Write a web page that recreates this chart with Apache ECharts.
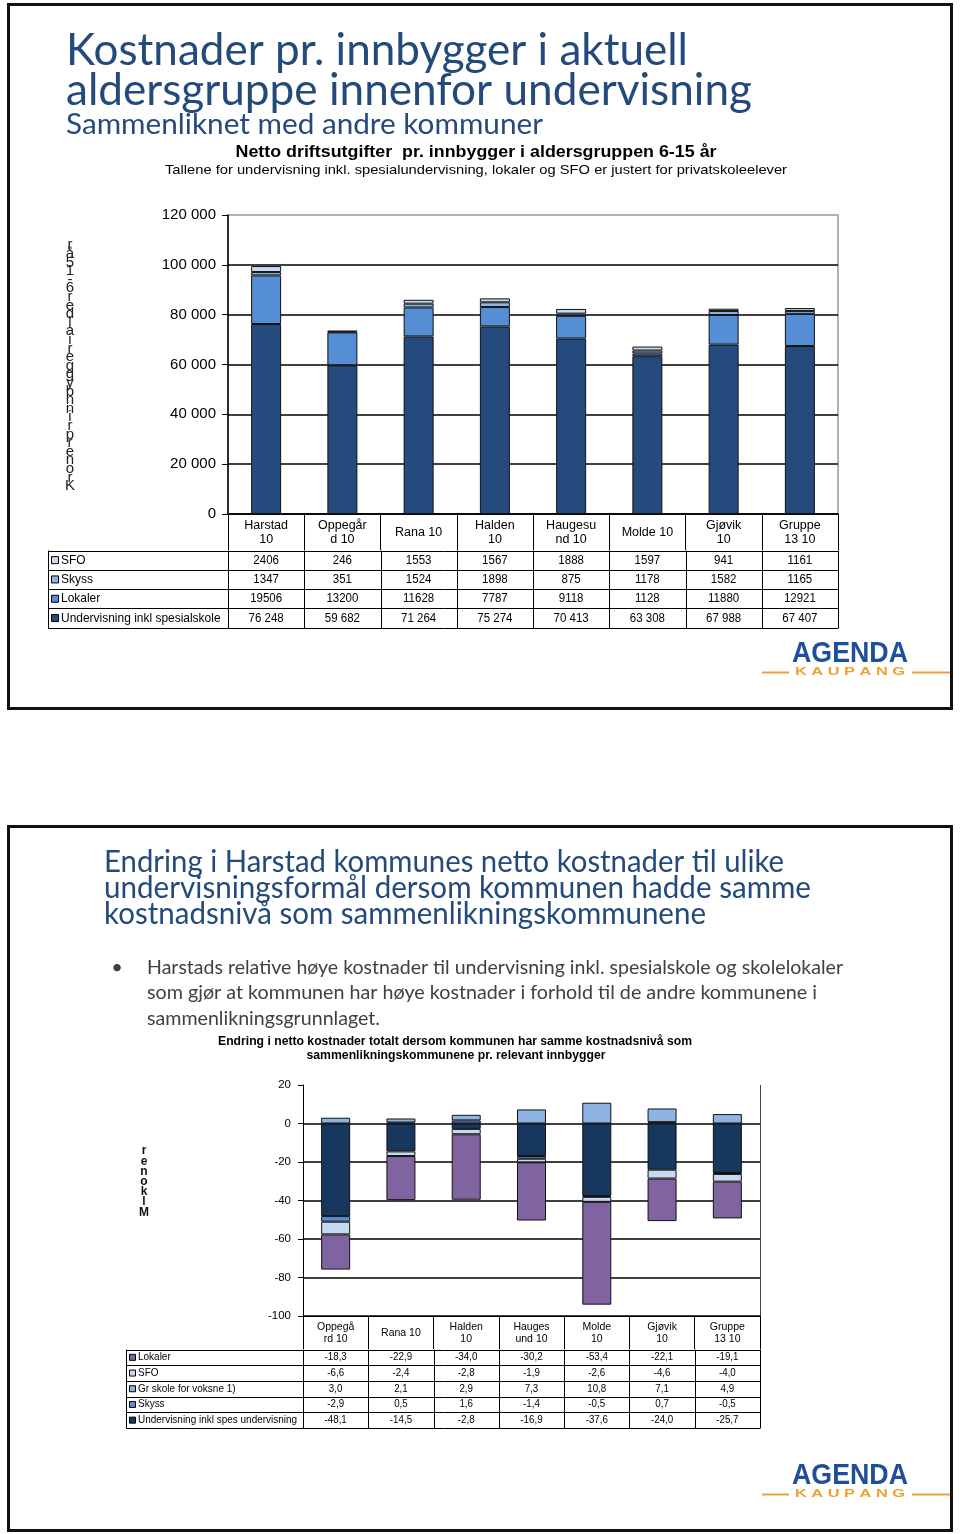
<!DOCTYPE html>
<html><head><meta charset="utf-8">
<script src="https://cdn.jsdelivr.net/npm/echarts@6/dist/echarts.min.js"></script>
<style>html,body{margin:0;padding:0;background:#fff}#c{width:960px;height:1534px}</style>
</head><body><div id="c"></div>
<script>
// ---------- DATA: chart 1 ----------
const cat1 = ["Harstad 10","Oppegård 10","Rana 10","Halden 10","Haugesund 10","Molde 10","Gjøvik 10","Gruppe 13 10"];
const cat1Labels = ["Harstad\n10","Oppegår\nd 10","Rana 10","Halden\n10","Haugesu\nnd 10","Molde 10","Gjøvik\n10","Gruppe\n13 10"];
const sfo1 = [2406,246,1553,1567,1888,1597,941,1161];
const skyss1 = [1347,351,1524,1898,875,1178,1582,1165];
const lokaler1 = [19506,13200,11628,7787,9118,1128,11880,12921];
const underv1 = [76248,59682,71264,75274,70413,63308,67988,67407];
const rowNames1 = ["SFO","Skyss","Lokaler","Undervisning inkl spesialskole"];

// ---------- DATA: chart 2 ----------
const cat2 = ["Oppegård 10","Rana 10","Halden 10","Haugesund 10","Molde 10","Gjøvik 10","Gruppe 13 10"];
const cat2Labels = ["Oppegå\nrd 10","Rana 10","Halden\n10","Hauges\nund 10","Molde\n10","Gjøvik\n10","Gruppe\n13 10"];
const lokaler2 = [-18.3,-22.9,-34.0,-30.2,-53.4,-22.1,-19.1];
const sfo2 = [-6.6,-2.4,-2.8,-1.9,-2.6,-4.6,-4.0];
const grskole2 = [3.0,2.1,2.9,7.3,10.8,7.1,4.9];
const skyss2 = [-2.9,0.5,1.6,-1.4,-0.5,0.7,-0.5];
const underv2 = [-48.1,-14.5,-2.8,-16.9,-37.6,-24.0,-25.7];
const rowNames2 = ["Lokaler","SFO","Gr skole for voksne 1)","Skyss","Undervisning inkl spes undervisning"];

// ---------- STYLE / LAYOUT ----------
const C1 = {underv:'#254B7E', lokaler:'#558ED5', skyss:'#8EB4E3', sfo:'#C6D9F1'};
const C2 = {underv:'#17375E', skyss:'#558ED5', gr:'#8EB4E3', sfo:'#C6D9F1', lokaler:'#8064A2'};
const G1 = {left:228, top:215, width:610, height:299};
const G2 = {left:303, top:1085, width:457, height:231};
const BLUE = '#244A7C';
const SANS = '"Liberation Sans", Arial, sans-serif';
const TITLEF = 'Lato, "Open Sans", sans-serif';

const ctx = document.createElement('canvas').getContext('2d');
function txt(text, x, y, o, target) {
  o = o || {};
  const size = o.size || 12, weight = o.weight || 'normal', family = o.family || SANS;
  ctx.font = weight + ' ' + size + 'px ' + family;
  const w = ctx.measureText(text).width;
  const s = target ? target / w : (o.scaleX || 1);
  return {type:'text', x:x, y:y, scaleX:s, z:20, silent:true,
    style:{text:text, fill:o.color||'#000', fontSize:size, fontWeight:weight, fontFamily:family,
      textAlign:o.align||'left', textVerticalAlign:o.valign||'middle', verticalAlign:o.valign||'middle',
      lineHeight:o.lineHeight}};
}
function ln(x1,y1,x2,y2,color,w){
  return {type:'line', z:20, silent:true, shape:{x1:x1,y1:y1,x2:x2,y2:y2}, style:{stroke:color||'#000', lineWidth:w||1}};
}
function sq(x,y,s,fill){
  return {type:'rect', z:20, silent:true, shape:{x:x,y:y,width:s,height:s}, style:{fill:fill, stroke:'#000', lineWidth:1}};
}
function fmtSpace(v){ return String(v).replace(/\B(?=(\d{3})+(?!\d))/g,' '); }
function fmtComma(v){ return v.toFixed(1).replace('.',','); }

const gr = [];
// slide frames
gr.push({type:'rect', z:1, silent:true, shape:{x:8.5,y:4.5,width:943,height:704}, style:{fill:'none', stroke:'#111', lineWidth:3}});
gr.push({type:'rect', z:1, silent:true, shape:{x:8.5,y:826.5,width:943,height:704}, style:{fill:'none', stroke:'#111', lineWidth:3}});

// slide 1 titles
gr.push(txt("Kostnader pr. innbygger i aktuell", 66, 51, {size:44, family:TITLEF, color:BLUE}, 622));
gr.push(txt("aldersgruppe innenfor undervisning", 66, 91, {size:44, family:TITLEF, color:BLUE}, 686));
gr.push(txt("Sammenliknet med andre kommuner", 66, 125, {size:29, family:TITLEF, color:BLUE}, 477));
gr.push(txt("Netto driftsutgifter  pr. innbygger i aldersgruppen 6-15 år", 476, 152, {size:17, weight:'bold', align:'center'}, 481));
gr.push(txt("Tallene for undervisning inkl. spesialundervisning, lokaler og SFO er justert for privatskoleelever", 476, 170, {size:13, align:'center'}, 622));

// y name chart 1 (stacked letters, reversed)
const yName1 = "Kroner pr innbygger i alder 6-15 år".replace(/ /g,'').split('').reverse().join('\n');
gr.push(txt(yName1, 70, 241, {size:15, valign:'top', align:'center', lineHeight:8.6, color:'#222'}));

// table 1
(function(){
  const n = cat1.length, cw = G1.width / n, x0 = G1.left, xL = 48.5;
  const top = 550.5, rh = 19.3;
  const rows = [sfo1, skyss1, lokaler1, underv1];
  const cols = [C1.sfo, C1.skyss, C1.lokaler, C1.underv];
  for (let r = 0; r <= rows.length; r++) {
    const y = Math.round(top + r*rh) + 0.5;
    gr.push(ln(xL, y, x0 + G1.width, y));
  }
  const yb = Math.round(top + rows.length*rh) + 0.5;
  gr.push(ln(xL, top, xL, yb));
  for (let c = 0; c <= n; c++) {
    const x = Math.round(x0 + c*cw) + 0.5;
    gr.push(ln(x, top, x, yb));
  }
  rows.forEach(function(arr, r){
    const yc = top + r*rh + rh/2;
    gr.push(sq(51.5, yc-3.5, 7, cols[r]));
    gr.push(txt(rowNames1[r], 61, yc, {size:13, scaleX:0.92}));
    arr.forEach(function(v, c){
      gr.push(txt(r === 3 ? fmtSpace(v) : String(v), x0 + (c+0.5)*cw, yc, {size:12.5, align:'center', scaleX:0.92}));
    });
  });
})();

// logos
function logo(yA){
  gr.push(txt("AGENDA", 850, yA, {size:30, weight:'bold', family:'"Liberation Sans", Arial, sans-serif', color:'#1F4E9A', align:'center'}, 116));
  gr.push(txt("K A U P A N G", 850, yA+18, {size:11.5, weight:'bold', color:'#F0A030', align:'center'}, 110));
  gr.push(ln(762, yA+18.5, 789, yA+18.5, '#F0A030', 2));
  gr.push(ln(912, yA+18.5, 950, yA+18.5, '#F0A030', 2));
}
logo(654);
logo(1476);

// slide 2 texts
gr.push(txt("Endring i Harstad kommunes netto kostnader til ulike", 104, 862, {size:31, family:TITLEF, color:BLUE}, 680));
gr.push(txt("undervisningsformål dersom kommunen hadde samme", 104, 888, {size:31, family:TITLEF, color:BLUE}, 707));
gr.push(txt("kostnadsnivå som sammenlikningskommunene", 104, 914, {size:31, family:TITLEF, color:BLUE}, 602));
gr.push(txt("•", 117, 968, {size:20, family:TITLEF, color:'#404040', align:'center'}));
gr.push(txt("Harstads relative høye kostnader til undervisning inkl. spesialskole og skolelokaler", 147, 968, {size:20, family:TITLEF, color:'#404040'}, 696));
gr.push(txt("som gjør at kommunen har høye kostnader i forhold til de andre kommunene i", 147, 993, {size:20, family:TITLEF, color:'#404040'}, 670));
gr.push(txt("sammenlikningsgrunnlaget.", 147, 1019, {size:20, family:TITLEF, color:'#404040'}, 233));
gr.push(txt("Endring i netto kostnader totalt dersom kommunen har samme kostnadsnivå som", 455, 1041, {size:13, weight:'bold', align:'center'}, 474));
gr.push(txt("sammenlikningskommunene pr. relevant innbygger", 456, 1055, {size:13, weight:'bold', align:'center'}, 299));

// y name chart 2
const yName2 = ["r","e","n","o","k","l","M"].join('\n');
gr.push(txt(yName2, 144, 1146, {size:12, weight:'bold', valign:'top', align:'center', lineHeight:10.2, color:'#111'}));

// chart 2 right border
gr.push(ln(G2.left + G2.width + 0.5, G2.top, G2.left + G2.width + 0.5, G2.top + G2.height, '#444', 1));

// table 2
(function(){
  const n = cat2.length, cw = G2.width / n, x0 = G2.left, xL = 126.5;
  const top = 1349.5, rh = 15.7;
  const rows = [lokaler2, sfo2, grskole2, skyss2, underv2];
  const cols = [C2.lokaler, C2.sfo, C2.gr, C2.skyss, C2.underv];
  for (let r = 0; r <= rows.length; r++) {
    const y = Math.round(top + r*rh) + 0.5;
    gr.push(ln(xL, y, x0 + G2.width, y));
  }
  const yb = Math.round(top + rows.length*rh) + 0.5;
  gr.push(ln(xL, top, xL, yb));
  for (let c = 0; c <= n; c++) {
    const x = Math.round(x0 + c*cw) + 0.5;
    gr.push(ln(x, top, x, yb));
  }
  rows.forEach(function(arr, r){
    const yc = top + r*rh + rh/2;
    gr.push(sq(129.5, yc-3, 6, cols[r]));
    gr.push(txt(rowNames2[r], 138, yc, {size:10.5, scaleX:0.95}));
    arr.forEach(function(v, c){
      gr.push(txt(fmtComma(v), x0 + (c+0.5)*cw, yc, {size:10.5, align:'center', scaleX:0.93}));
    });
  });
})();

function barS(name, data, color, stack, xi, bw){
  return {name:name, type:'bar', stack:stack, data:data, xAxisIndex:xi, yAxisIndex:xi, barWidth:bw,
    itemStyle:{color:color, borderColor:'#111', borderWidth:1}, emphasis:{disabled:true}};
}

const chart = echarts.init(document.getElementById('c'), null, {renderer:'canvas'});
chart.setOption({
  animation:false,
  backgroundColor:'#fff',
  grid:[
    Object.assign({show:true, borderColor:'#999', borderWidth:1.5, backgroundColor:'transparent', containLabel:false, outerBoundsMode:'none'}, G1),
    Object.assign({containLabel:false, outerBoundsMode:'none'}, G2)
  ],
  xAxis:[
    {type:'category', gridIndex:0, data:cat1,
     axisLine:{onZero:false, lineStyle:{color:'#000', width:1.5}},
     axisTick:{show:true, length:36, lineStyle:{color:'#000', width:1}},
     axisLabel:{formatter:function(v, i){ return cat1Labels[i]; }, interval:0, margin:19, verticalAlign:'middle',
       fontSize:12.5, lineHeight:14, color:'#000', fontFamily:SANS}},
    {type:'category', gridIndex:1, data:cat2,
     axisLine:{onZero:false, lineStyle:{color:'#000', width:1}},
     axisTick:{show:true, length:33, lineStyle:{color:'#000', width:1}},
     axisLabel:{formatter:function(v, i){ return cat2Labels[i]; }, interval:0, margin:17, verticalAlign:'middle',
       fontSize:10.5, lineHeight:11.5, color:'#000', fontFamily:SANS}}
  ],
  yAxis:[
    {type:'value', gridIndex:0, min:0, max:120000, interval:20000,
     axisLine:{show:true, lineStyle:{color:'#000', width:1.5}},
     axisTick:{show:true, length:6, lineStyle:{color:'#000'}},
     axisLabel:{formatter:fmtSpace, fontSize:15, color:'#000', margin:12, fontFamily:SANS},
     splitLine:{show:true, showMaxLine:false, lineStyle:{color:'#000', width:1.5}}},
    {type:'value', gridIndex:1, min:-100, max:20, interval:20,
     axisLine:{show:true, lineStyle:{color:'#000', width:1}},
     axisTick:{show:true, length:5, lineStyle:{color:'#000'}},
     axisLabel:{fontSize:11.5, color:'#000', margin:12, fontFamily:SANS},
     splitLine:{show:true, showMaxLine:false, lineStyle:{color:'#000', width:1.5}}}
  ],
  series:[
    barS('Undervisning inkl spesialskole', underv1, C1.underv, 's1', 0, 30),
    barS('Lokaler', lokaler1, C1.lokaler, 's1', 0, 30),
    barS('Skyss', skyss1, C1.skyss, 's1', 0, 30),
    barS('SFO', sfo1, C1.sfo, 's1', 0, 30),
    barS('Undervisning inkl spes undervisning', underv2, C2.underv, 's2', 1, 29),
    barS('Skyss', skyss2, C2.skyss, 's2', 1, 29),
    barS('Gr skole for voksne 1)', grskole2, C2.gr, 's2', 1, 29),
    barS('SFO', sfo2, C2.sfo, 's2', 1, 29),
    barS('Lokaler', lokaler2, C2.lokaler, 's2', 1, 29)
  ],
  graphic:gr
});
</script></body></html>
